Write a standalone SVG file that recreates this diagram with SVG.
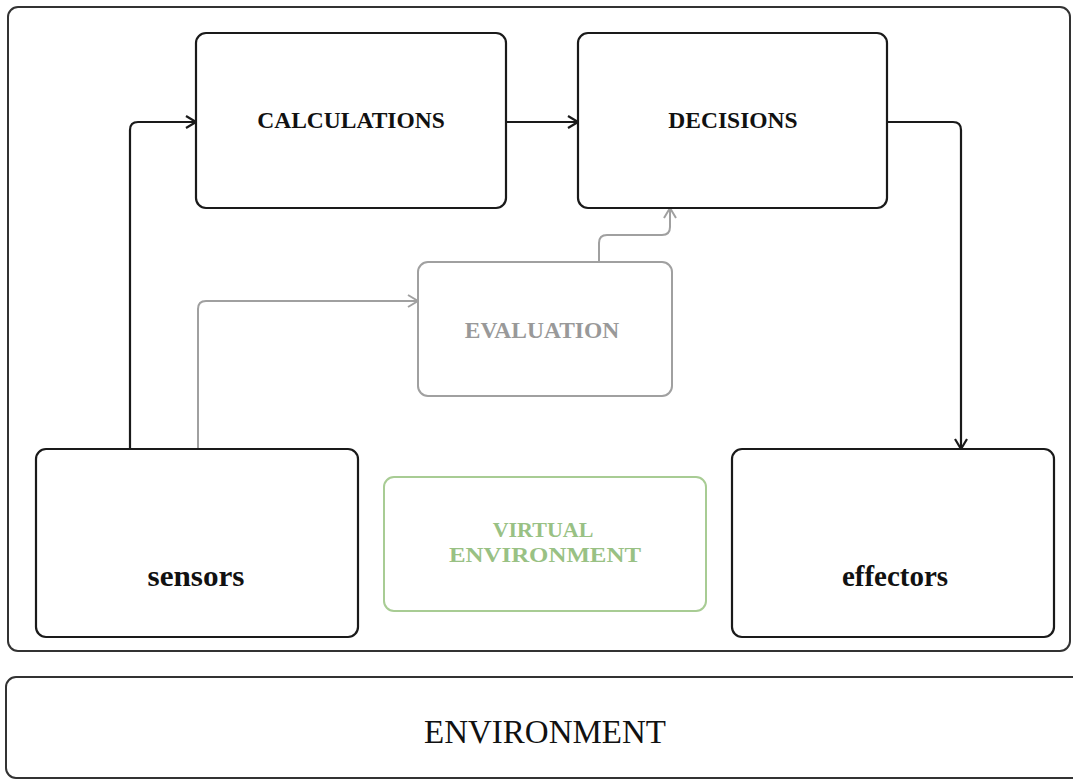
<svg xmlns="http://www.w3.org/2000/svg" width="1073" height="780" viewBox="0 0 1073 780">
  <defs>
    <style>
      .frame { fill: #ffffff; stroke: #333333; stroke-width: 2; }
      .box { fill: #ffffff; stroke: #1a1a1a; stroke-width: 2.2; }
      .box-grey { fill: #ffffff; stroke: #a0a0a0; stroke-width: 2; }
      .box-green { fill: #ffffff; stroke: #a8cc94; stroke-width: 2; }
      .label { font-family: "Liberation Serif", "Times New Roman", serif; font-weight: bold; text-anchor: middle; }
      .caps { font-size: 23.5px; fill: #111111; }
      .small-caps { font-size: 22px; }
      .lower { font-size: 29px; fill: #111111; }
      .grey { fill: #999999; }
      .green { fill: #99c184; }
      .env { font-family: "Liberation Serif", "Times New Roman", serif; font-size: 33px; fill: #111111; text-anchor: middle; }
      .link { fill: none; stroke: #1a1a1a; stroke-width: 2.2; }
      .link-grey { fill: none; stroke: #a0a0a0; stroke-width: 2; }
    </style>
    <marker id="arrow" viewBox="0 0 12 14" refX="11" refY="7" markerWidth="12" markerHeight="14" markerUnits="userSpaceOnUse" orient="auto">
      <path d="M1,1 L11,7 L1,13" fill="none" stroke="#1a1a1a" stroke-width="2.2"/>
    </marker>
    <marker id="arrow-grey" viewBox="0 0 12 14" refX="11" refY="7" markerWidth="12" markerHeight="14" markerUnits="userSpaceOnUse" orient="auto">
      <path d="M1,1 L11,7 L1,13" fill="none" stroke="#a0a0a0" stroke-width="2"/>
    </marker>
  </defs>

  <rect width="1073" height="780" fill="#ffffff"/>

  <!-- agent frame -->
  <g id="agent">
    <rect class="frame" x="8" y="7" width="1062" height="644" rx="10"/>
  </g>

  <!-- environment band -->
  <g id="environment">
    <rect class="frame" x="6" y="677" width="1080" height="101" rx="10"/>
    <text class="env" x="545" y="743">ENVIRONMENT</text>
  </g>

  <!-- connectors -->
  <g id="connectors">
    <path class="link" d="M130,449 V130 Q130,122 138,122 H196" marker-end="url(#arrow)"/>
    <path class="link" d="M506,122 H578" marker-end="url(#arrow)"/>
    <path class="link" d="M887,122 H953 Q961,122 961,130 V449" marker-end="url(#arrow)"/>
    <path class="link-grey" d="M198,449 V309 Q198,301 206,301 H418" marker-end="url(#arrow-grey)"/>
    <path class="link-grey" d="M599,262 V243 Q599,235 607,235 H662 Q670,235 670,227 V208" marker-end="url(#arrow-grey)"/>
  </g>

  <g id="calculations">
    <rect class="box" x="196" y="33" width="310" height="175" rx="10"/>
    <text class="label caps" x="351" y="128">CALCULATIONS</text>
  </g>

  <g id="decisions">
    <rect class="box" x="578" y="33" width="309" height="175" rx="10"/>
    <text class="label caps" x="733" y="128">DECISIONS</text>
  </g>

  <g id="evaluation">
    <rect class="box-grey" x="418" y="262" width="254" height="134" rx="10"/>
    <text class="label caps grey" x="542" y="338">EVALUATION</text>
  </g>

  <g id="sensors">
    <rect class="box" x="36" y="449" width="322" height="188" rx="10"/>
    <text class="label lower" x="196" y="586" textLength="97" lengthAdjust="spacingAndGlyphs">sensors</text>
  </g>

  <g id="virtual-environment">
    <rect class="box-green" x="384" y="477" width="322" height="134" rx="10"/>
    <text class="label caps small-caps green" x="543" y="537">VIRTUAL</text>
    <text class="label caps small-caps green" x="545" y="562" textLength="192" lengthAdjust="spacingAndGlyphs">ENVIRONMENT</text>
  </g>

  <g id="effectors">
    <rect class="box" x="732" y="449" width="322" height="188" rx="10"/>
    <text class="label lower" x="895" y="586">effectors</text>
  </g>
</svg>
